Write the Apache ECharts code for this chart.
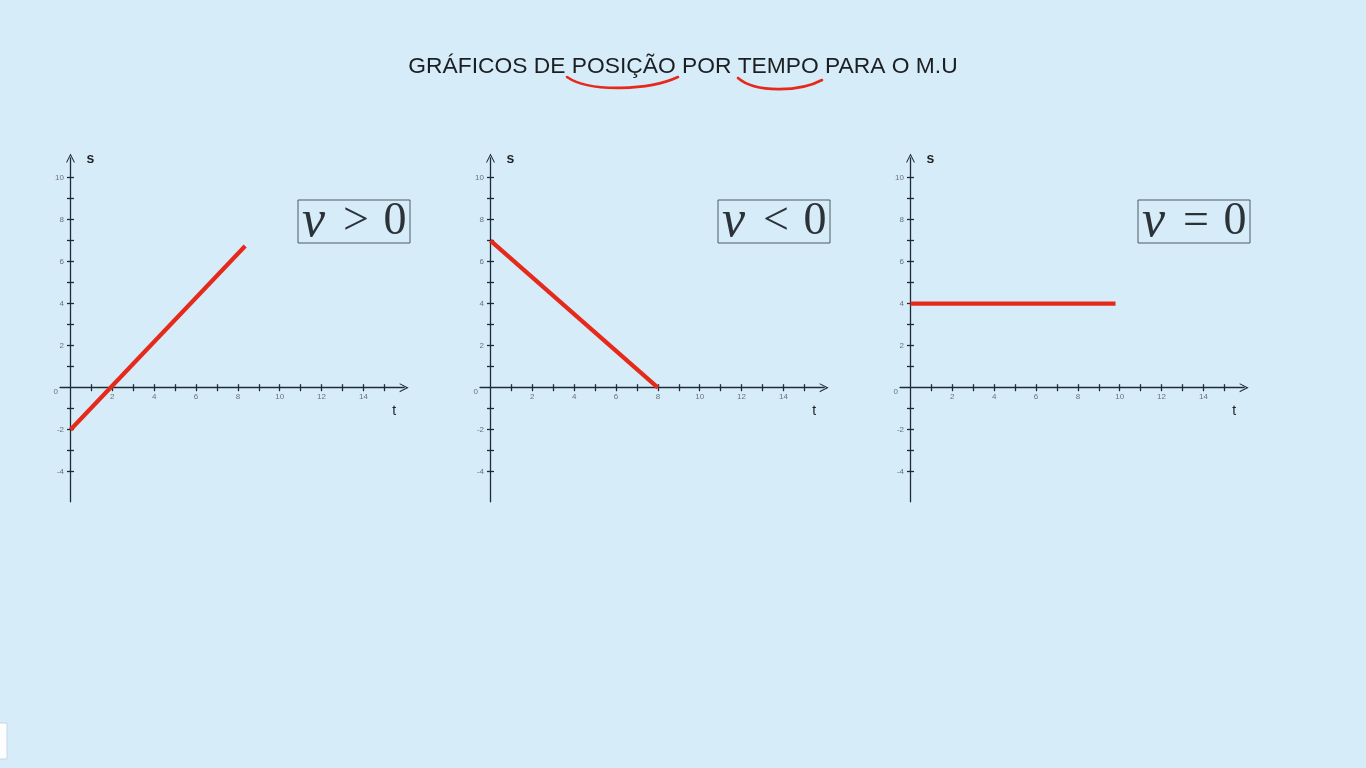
<!DOCTYPE html>
<html>
<head>
<meta charset="utf-8">
<script src="https://cdn.jsdelivr.net/npm/echarts@6/dist/echarts.min.js"></script>
<style>
html,body{margin:0;padding:0;background:#d7ecf9;}
#chart{width:1366px;height:768px;}
</style>
</head>
<body>
<div id="chart"></div>
<script>
// ---- data ----
const titleText = 'GRÁFICOS DE POSIÇÃO POR TEMPO PARA O M.U';
const tPos = [0, 8.35];   const sPos = [-2, 6.75];   // v > 0
const tNeg = [0, 8];      const sNeg = [7, 0];       // v < 0
const tZero = [0, 9.8];   const sZero = [4, 4];      // v = 0
const relations = ['>', '<', '='];
const tTickVals = [1, 2, 3, 4, 5, 6, 7, 8, 9, 10, 11, 12, 13, 14, 15];
const tLabelVals = [2, 4, 6, 8, 10, 12, 14];
const sTickVals = [-4, -3, -2, -1, 1, 2, 3, 4, 5, 6, 7, 8, 9, 10];
const sLabelVals = [-4, -2, 0, 2, 4, 6, 8, 10];
const tRange = [-0.5, 15.95];
const sRange = [-5.43, 10.94];

const seriesT = [tPos, tNeg, tZero];
const seriesS = [sPos, sNeg, sZero];

// ---- layout ----
const pxT = 20.92, pxS = 21;
const t0px = [70.5, 490.5, 910.5];
const s0py = 387.7;
const axisColor = '#1e2c36';
const labelColor = '#6a7278';
const red = '#e52a1c';
const chevron = 'path://M0,10 L5,0 L10,10 L8.8,10 L5,2.6 L1.2,10 Z';

const grids = [], xAxes = [], yAxes = [], series = [], graphics = [];

for (let i = 0; i < 3; i++) {
  const left = t0px[i] + tRange[0] * pxT;
  const width = (tRange[1] - tRange[0]) * pxT;
  const top = s0py - sRange[1] * pxS;
  const height = (sRange[1] - sRange[0]) * pxS;
  grids.push({left: left, top: top, width: width, height: height, containLabel: false});
  // labels are laid out from the grid edge, so pull them back next to the zero line
  const xLabelMargin = (s0py + 5) - (top + height);
  const yLabelMargin = left - (t0px[i] - 6.5);

  // main x axis (lower-side ticks + labels)
  xAxes.push({
    type: 'value', gridIndex: i, position: 'bottom', min: tRange[0], max: tRange[1],
    axisLine: {show: true, onZero: true, onZeroAxisIndex: 2 * i, symbol: ['none', chevron], symbolSize: [9, 10],
      lineStyle: {color: axisColor, width: 1.3}},
    axisTick: {show: true, inside: false, length: 3.5, customValues: tTickVals,
      lineStyle: {color: axisColor, width: 1.3}},
    axisLabel: {show: true, customValues: tLabelVals, margin: xLabelMargin, fontSize: 8,
      color: labelColor, fontFamily: 'Liberation Sans'},
    splitLine: {show: false},
    name: 't', nameLocation: 'end', nameGap: -14,
    nameTextStyle: {fontSize: 14, color: '#222', fontFamily: 'Liberation Sans',
      verticalAlign: 'top', align: 'center', padding: [16, 0, 0, 8]}
  });
  // companion x axis (upper-side ticks)
  xAxes.push({
    type: 'value', gridIndex: i, position: 'top', min: tRange[0], max: tRange[1],
    axisLine: {show: true, onZero: true, onZeroAxisIndex: 2 * i, lineStyle: {color: axisColor, width: 1.3, opacity: 0}},
    axisTick: {show: true, inside: false, length: 3.5, customValues: tTickVals,
      lineStyle: {color: axisColor, width: 1.3}},
    axisLabel: {show: false},
    splitLine: {show: false}
  });
  // main y axis (left-side ticks + labels)
  yAxes.push({
    type: 'value', gridIndex: i, position: 'left', min: sRange[0], max: sRange[1],
    axisLine: {show: true, onZero: true, onZeroAxisIndex: 2 * i, symbol: ['none', chevron], symbolSize: [9, 10],
      lineStyle: {color: axisColor, width: 1.3}},
    axisTick: {show: true, inside: false, length: 3.5, customValues: sTickVals,
      lineStyle: {color: axisColor, width: 1.3}},
    axisLabel: {show: true, customValues: sLabelVals, margin: yLabelMargin, fontSize: 8,
      color: labelColor, fontFamily: 'Liberation Sans',
      formatter: function (v) { return v === 0 ? '{z|0}' : String(v); },
      rich: {z: {fontSize: 8, color: labelColor, padding: [8, 6, 0, 0]}}},
    splitLine: {show: false},
    name: 's', nameLocation: 'end', nameGap: 6,
    nameTextStyle: {fontSize: 14, color: '#222', fontFamily: 'Liberation Sans', fontWeight: 'bold',
      align: 'left', verticalAlign: 'top', padding: [0, 0, 0, 16]}
  });
  // companion y axis (right-side ticks)
  yAxes.push({
    type: 'value', gridIndex: i, position: 'right', min: sRange[0], max: sRange[1],
    axisLine: {show: true, onZero: true, onZeroAxisIndex: 2 * i, lineStyle: {color: axisColor, width: 1.3, opacity: 0}},
    axisTick: {show: true, inside: false, length: 3.5, customValues: sTickVals,
      lineStyle: {color: axisColor, width: 1.3}},
    axisLabel: {show: false},
    splitLine: {show: false}
  });

  const pts = seriesT[i].map(function (t, k) { return [t, seriesS[i][k]]; });
  series.push({
    type: 'line', xAxisIndex: 2 * i, yAxisIndex: 2 * i, data: pts,
    showSymbol: false, symbol: 'none', silent: true, animation: false,
    lineStyle: {color: red, width: 4.2, cap: 'butt'}, z: 5
  });

  // equation box
  const bx = t0px[i] + 227.5;
  graphics.push({
    type: 'rect', shape: {x: bx, y: 200, width: 112, height: 43},
    style: {fill: 'none', stroke: '#4d5a63', lineWidth: 1}
  });
  graphics.push({
    type: 'text', x: bx + 4, y: 222,
    style: {
      text: '{v|v}{r|' + relations[i] + '}{z|0}',
      textVerticalAlign: 'middle', textAlign: 'left',
      rich: {
        v: {fontFamily: 'Liberation Serif', fontStyle: 'italic', fontSize: 52, width: 30, align: 'left', fill: '#2b3238'},
        r: {fontFamily: 'Liberation Serif', fontSize: 46, width: 48, align: 'center', fill: '#2b3238'},
        z: {fontFamily: 'Liberation Serif', fontSize: 46, width: 30, align: 'center', fill: '#2b3238'}
      }
    }
  });
}

// red hand-drawn underlines
graphics.push({
  type: 'bezierCurve',
  shape: {x1: 567, y1: 77, x2: 678, y2: 77, cpx1: 590, cpy1: 93, cpx2: 650, cpy2: 90},
  style: {stroke: red, lineWidth: 2.6, fill: 'none', lineCap: 'round'}
});
graphics.push({
  type: 'bezierCurve',
  shape: {x1: 738, y1: 78, x2: 822, y2: 80, cpx1: 755, cpy1: 93, cpx2: 800, cpy2: 92},
  style: {stroke: red, lineWidth: 2.6, fill: 'none', lineCap: 'round'}
});
// small white patch at bottom-left edge
graphics.push({
  type: 'rect', shape: {x: -2, y: 723, width: 9, height: 36},
  style: {fill: '#fbfdff', stroke: '#c9d6de', lineWidth: 1}
});

const chart = echarts.init(document.getElementById('chart'), null, {renderer: 'canvas'});
chart.setOption({
  backgroundColor: '#d7ecf9',
  animation: false,
  title: {
    text: titleText, left: 'center', top: 55, padding: 0,
    textStyle: {fontFamily: 'Liberation Sans', fontSize: 22.8, fontWeight: 'normal', color: '#1b1f22'}
  },
  grid: grids,
  xAxis: xAxes,
  yAxis: yAxes,
  series: series,
  graphic: graphics
});
</script>
</body>
</html>
